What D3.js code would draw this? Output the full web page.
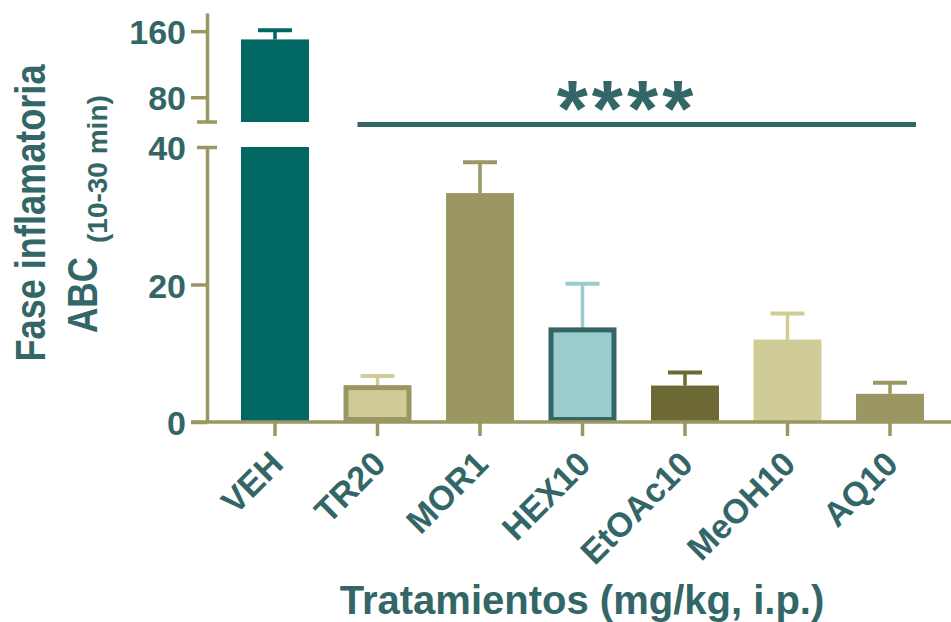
<!DOCTYPE html>
<html>
<head>
<meta charset="utf-8">
<script src="https://cdn.jsdelivr.net/npm/d3@7"></script>
<style>
  html, body { margin: 0; padding: 0; background: #fff; }
  svg { display: block; font-family: "Liberation Sans", Arial, sans-serif; font-weight: bold; }
</style>
</head>
<body>
<div id="chart"></div>
<script>
// data
const categories = ['VEH', 'TR20', 'MOR1', 'HEX10', 'EtOAc10', 'MeOH10', 'AQ10'];
const means      = [150, 5.0, 33.3, 13.4, 5.3, 12.0, 4.1];
const sems       = [11, 1.7, 4.5, 6.7, 1.9, 3.8, 1.6];
const lowTicks   = [0, 20, 40];
const highTicks  = [80, 160];
const lowDomain  = [0, 40];
const highDomain = [50, 182];
const sigFrom = 'TR20', sigTo = 'AQ10', sigLabel = '****';

const W = 951, H = 622;
const TEXT = '#336666', AXIS = '#9b9762';
const FILL = { VEH: '#016763', TR20: '#cfcc98', MOR1: '#9b9762', HEX10: '#9bcbcb',
               EtOAc10: '#6d6935', MeOH10: '#cfcc98', AQ10: '#9b9762' };
const EDGE = { TR20: '#9b9762', HEX10: '#336664' };
const ERR  = { VEH: '#016763', TR20: '#cfcc98', MOR1: '#9b9762', HEX10: '#9bcbcb',
               EtOAc10: '#6d6935', MeOH10: '#cfcc98', AQ10: '#9b9762' };

const data = categories.map((c, i) => ({ cat: c, mean: means[i], sem: sems[i] }));

const AX_X = 207;
const x = d3.scaleBand().domain(categories).range([223.75, 941.25])
  .paddingInner(0.337).paddingOuter(0.1685);
const yLow  = d3.scaleLinear().domain(lowDomain).range([422, 147]);
const yHigh = d3.scaleLinear().domain(highDomain).range([122, 13]);
const y = v => v <= lowDomain[1] ? yLow(v) : yHigh(v);

const svg = d3.select('#chart').append('svg')
  .attr('width', W).attr('height', H);

const bw = x.bandwidth();

// error bars (upper only), behind bars
const err = svg.append('g').attr('class', 'errors');
data.forEach(d => {
  const cx = x(d.cat) + bw / 2;
  const top = y(d.mean + d.sem);
  err.append('line')
    .attr('x1', cx).attr('x2', cx)
    .attr('y1', y(d.mean)).attr('y2', top)
    .attr('stroke', ERR[d.cat]).attr('stroke-width', 3.5);
  err.append('line')
    .attr('x1', cx - 17).attr('x2', cx + 17)
    .attr('y1', top).attr('y2', top)
    .attr('stroke', ERR[d.cat]).attr('stroke-width', 4);
});

// bars (broken for values above the lower segment)
const bars = svg.append('g').attr('class', 'bars');
data.forEach(d => {
  const sw = EDGE[d.cat] ? 5 : 0;
  const segs = d.mean > lowDomain[1]
    ? [[yLow(lowDomain[1]), yLow(0)], [yHigh(d.mean), yHigh(highDomain[0])]]
    : [[yLow(d.mean), yLow(0)]];
  segs.forEach(([t, b]) => {
    bars.append('rect')
      .attr('x', x(d.cat) + sw / 2)
      .attr('y', t)
      .attr('width', bw - sw)
      .attr('height', b - t - sw / 2)
      .attr('fill', FILL[d.cat])
      .attr('stroke', EDGE[d.cat] || 'none')
      .attr('stroke-width', sw);
  });
});

// y axis, lower segment
const gLow = svg.append('g').attr('transform', `translate(${AX_X},0)`)
  .call(d3.axisLeft(yLow).tickValues(lowTicks).tickSize(16).tickSizeOuter(0).tickPadding(5));
gLow.selectAll('.tick').filter(d => d === lowDomain[1]).select('line')
  .attr('x1', 10).attr('x2', -10);

// y axis, upper segment
const gHigh = svg.append('g').attr('transform', `translate(${AX_X},0)`)
  .call(d3.axisLeft(yHigh).tickValues(highTicks).tickSize(16).tickSizeOuter(0).tickPadding(5));
gHigh.append('line')
  .attr('x1', -10).attr('x2', 10)
  .attr('y1', yHigh(highDomain[0])).attr('y2', yHigh(highDomain[0]));

[gLow, gHigh].forEach(g => {
  g.select('.domain').attr('stroke', AXIS).attr('stroke-width', 3.5);
  g.selectAll('line').attr('stroke', AXIS).attr('stroke-width', 3.5);
  g.selectAll('text')
    .attr('fill', TEXT).attr('dy', '0.37em')
    .style('font-size', '34px').style('font-weight', 'bold')
    .style('font-family', '"Liberation Sans", Arial, sans-serif');
});

// x axis
const gx = svg.append('g').attr('transform', `translate(0,${yLow(0)})`)
  .call(d3.axisBottom(x).tickSize(14).tickSizeOuter(0));
gx.select('.domain').remove();
gx.insert('line', ':first-child')
  .attr('x1', AX_X - 16).attr('x2', W)
  .attr('y1', 0).attr('y2', 0);
gx.selectAll('line').attr('stroke', AXIS).attr('stroke-width', 3.5);
gx.selectAll('.tick text')
  .attr('fill', TEXT)
  .attr('x', 0).attr('y', 0).attr('dy', 0)
  .attr('transform', 'translate(10,44) rotate(-45)')
  .style('text-anchor', 'end')
  .style('font-size', '34px').style('font-weight', 'bold')
  .style('font-family', '"Liberation Sans", Arial, sans-serif');

// significance bar
const sx1 = x(sigFrom) + 14, sx2 = x(sigTo) + bw - 8;
svg.append('line')
  .attr('x1', sx1).attr('x2', sx2)
  .attr('y1', 124.5).attr('y2', 124.5)
  .attr('stroke', TEXT).attr('stroke-width', 5);
svg.append('text')
  .attr('x', 627).attr('y', 136)
  .attr('text-anchor', 'middle')
  .attr('fill', TEXT)
  .style('font-size', '80px').style('letter-spacing', '4px')
  .text(sigLabel);

// axis titles
svg.append('text')
  .attr('transform', 'translate(45,213) rotate(-90)')
  .attr('text-anchor', 'middle')
  .attr('fill', TEXT)
  .attr('textLength', 297).attr('lengthAdjust', 'spacingAndGlyphs')
  .style('font-size', '42px')
  .text('Fase inflamatoria');
svg.append('text')
  .attr('transform', 'translate(97,333) rotate(-90)')
  .attr('fill', TEXT)
  .attr('textLength', 76).attr('lengthAdjust', 'spacingAndGlyphs')
  .style('font-size', '42px')
  .text('ABC');
svg.append('text')
  .attr('transform', 'translate(107,243) rotate(-90)')
  .attr('fill', TEXT)
  .style('font-size', '28px')
  .text('(10-30 min)');

svg.append('text')
  .attr('x', 582).attr('y', 614)
  .attr('text-anchor', 'middle')
  .attr('fill', TEXT)
  .style('font-size', '40px')
  .text('Tratamientos (mg/kg, i.p.)');
</script>
</body>
</html>
